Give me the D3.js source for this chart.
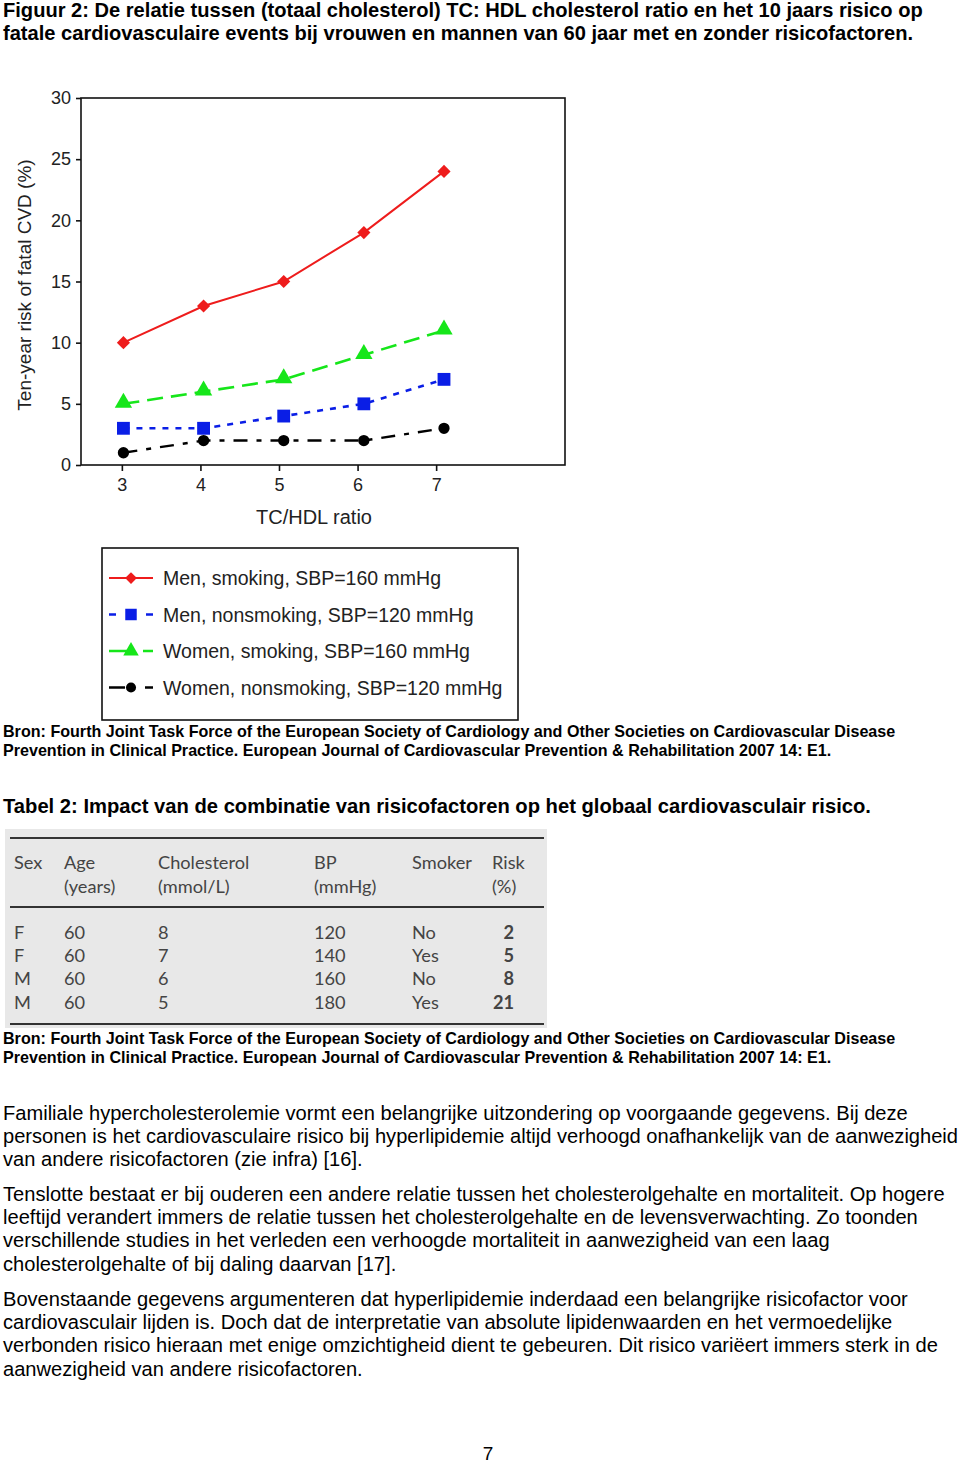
<!DOCTYPE html>
<html><head><meta charset="utf-8">
<script src="https://cdn.jsdelivr.net/npm/d3@7"></script>
<style>
body{margin:0;background:#fff;}
svg{display:block;}
</style></head>
<body>
<svg id="page" width="960" height="1463"></svg>
<script>
// ---------- data ----------
const ratios = [3, 4, 5, 6, 7];
const ratioPos = [3.02, 4.04, 5.06, 6.08, 7.1];
const yTicks = [0, 5, 10, 15, 20, 25, 30];
const menSmoking = [10, 13, 15, 19, 24];
const menNonsmoking = [3, 3, 4, 5, 7];
const womenSmoking = [5, 6, 7, 9, 11];
const womenNonsmoking = [1, 2, 2, 2, 3];
const seriesNames = ["Men, smoking, SBP=160 mmHg", "Men, nonsmoking, SBP=120 mmHg",
  "Women, smoking, SBP=160 mmHg", "Women, nonsmoking, SBP=120 mmHg"];

const titleLines = ["Figuur 2: De relatie tussen (totaal cholesterol) TC: HDL cholesterol ratio en het 10 jaars risico op",
  "fatale cardiovasculaire events bij vrouwen en mannen van 60 jaar met en zonder risicofactoren."];
const sourceLines = ["Bron: Fourth Joint Task Force of the European Society of Cardiology and Other Societies on Cardiovascular Disease",
  "Prevention in Clinical Practice. European Journal of Cardiovascular Prevention & Rehabilitation 2007 14: E1."];
const tableTitle = "Tabel 2: Impact van de combinatie van risicofactoren op het globaal cardiovasculair risico.";
const tableHeader1 = ["Sex", "Age", "Cholesterol", "BP", "Smoker", "Risk"];
const tableHeader2 = ["", "(years)", "(mmol/L)", "(mmHg)", "", "(%)"];
const tableSex = ["F", "F", "M", "M"];
const tableAge = [60, 60, 60, 60];
const tableChol = [8, 7, 6, 5];
const tableBP = [120, 140, 160, 180];
const tableSmoker = ["No", "Yes", "No", "Yes"];
const tableRisk = [2, 5, 8, 21];
const paragraphs = [
  ["Familiale hypercholesterolemie vormt een belangrijke uitzondering op voorgaande gegevens. Bij deze",
   "personen is het cardiovasculaire risico bij hyperlipidemie altijd verhoogd onafhankelijk van de aanwezigheid",
   "van andere risicofactoren (zie infra) [16]."],
  ["Tenslotte bestaat er bij ouderen een andere relatie tussen het cholesterolgehalte en mortaliteit. Op hogere",
   "leeftijd verandert immers de relatie tussen het cholesterolgehalte en de levensverwachting. Zo toonden",
   "verschillende studies in het verleden een verhoogde mortaliteit in aanwezigheid van een laag",
   "cholesterolgehalte of bij daling daarvan [17]."],
  ["Bovenstaande gegevens argumenteren dat hyperlipidemie inderdaad een belangrijke risicofactor voor",
   "cardiovasculair lijden is. Doch dat de interpretatie van absolute lipidenwaarden en het vermoedelijke",
   "verbonden risico hieraan met enige omzichtigheid dient te gebeuren. Dit risico variëert immers sterk in de",
   "aanwezigheid van andere risicofactoren."]];
const pageNumber = "7";

// ---------- drawing ----------
const svg = d3.select("#page");
const docFont = "'Liberation Sans',Arial,Helvetica,sans-serif";
const chartFont = "'Liberation Sans',Arial,Helvetica,sans-serif";

function textLine(x, y, s, size, weight, opts = {}) {
  const t = svg.append("text").attr("x", x).attr("y", y).text(s)
    .attr("font-family", opts.family || docFont).attr("font-size", size)
    .attr("font-weight", weight || "normal").attr("fill", opts.fill || "#000");
  if (opts.anchor) t.attr("text-anchor", opts.anchor);
  return t;
}

titleLines.forEach((s, i) => textLine(3, 17 + i * 23, s, 20.1, "bold"));

// chart
const box = {l: 81, r: 565, t: 98, b: 465};
const x = d3.scaleLinear().domain([2.48, 8.64]).range([box.l, box.r]);
const y = d3.scaleLinear().domain([0, 30]).range([box.b, box.t]);

const g = svg.append("g");
g.append("rect").attr("x", box.l).attr("y", box.t).attr("width", box.r - box.l).attr("height", box.b - box.t)
  .attr("fill", "none").attr("stroke", "#111").attr("stroke-width", 1.6);

const yAxis = g.append("g").attr("transform", `translate(${box.l},0)`)
  .call(d3.axisLeft(y).tickValues(yTicks).tickFormat(d3.format("d")).tickSize(5).tickPadding(5));
const xAxis = g.append("g").attr("transform", `translate(0,${box.b})`)
  .call(d3.axisBottom(x).tickValues(ratios).tickFormat(d3.format("d")).tickSize(6).tickPadding(7));
[yAxis, xAxis].forEach(a => {
  a.select(".domain").remove();
  a.selectAll("line").attr("stroke", "#111").attr("stroke-width", 1.6);
  a.selectAll("text").attr("font-family", chartFont).attr("font-size", 18).attr("fill", "#222");
});

g.append("text").attr("x", 314).attr("y", 524).attr("text-anchor", "middle")
  .attr("font-family", chartFont).attr("font-size", 20).attr("fill", "#222")
  .text("TC/HDL ratio");
g.append("text").attr("transform", "translate(31,285) rotate(-90)").attr("text-anchor", "middle")
  .attr("font-family", chartFont).attr("font-size", 19).attr("fill", "#222")
  .text("Ten-year risk of fatal CVD (%)");

const series = [
  {name: seriesNames[0], vals: menSmoking, color: "#ee1c1c", dash: null, legDash: null, sym: d3.symbolDiamond2, size: 110, w: 2},
  {name: seriesNames[1], vals: menNonsmoking, color: "#0a1ee6", dash: "6,7", legDash: "7,30", sym: d3.symbolSquare, size: 165, w: 2.6},
  {name: seriesNames[2], vals: womenSmoking, color: "#16e61a", dash: "16,8", legDash: "19,15", sym: d3.symbolTriangle, size: 130, w: 2.6},
  {name: seriesNames[3], vals: womenNonsmoking, color: "#000", dash: "14,9,5,9", legDash: "16,20", sym: d3.symbolCircle, size: 100, w: 2.4}
];
const line = d3.line().x((d, i) => x(ratioPos[i])).y(d => y(d));
series.forEach(s => {
  g.append("path").datum(s.vals).attr("d", line).attr("fill", "none")
    .attr("stroke", s.color).attr("stroke-width", s.w).attr("stroke-dasharray", s.dash);
  g.selectAll(null).data(s.vals).enter().append("path")
    .attr("transform", (d, i) => `translate(${x(ratioPos[i])},${y(d) + (s.sym === d3.symbolTriangle ? -1 : 0)})`)
    .attr("d", d3.symbol().type(s.sym).size(s.size)).attr("fill", s.color);
});

// legend
const lg = svg.append("g");
lg.append("rect").attr("x", 102).attr("y", 548).attr("width", 416).attr("height", 172)
  .attr("fill", "#fff").attr("stroke", "#111").attr("stroke-width", 1.6);
series.forEach((s, i) => {
  const yy = 578 + i * 36.5;
  lg.append("line").attr("x1", 109).attr("x2", 153).attr("y1", yy).attr("y2", yy)
    .attr("stroke", s.color).attr("stroke-width", s.w).attr("stroke-dasharray", s.legDash);
  lg.append("path").attr("transform", `translate(131,${yy})`)
    .attr("d", d3.symbol().type(s.sym).size(s.size * 0.8)).attr("fill", s.color);
  lg.append("text").attr("x", 163).attr("y", yy + 7).text(s.name)
    .attr("font-family", chartFont).attr("font-size", 19.5).attr("fill", "#222");
});

// source lines
sourceLines.forEach((s, i) => textLine(3, 737 + i * 19, s, 16.1, "bold"));
textLine(3, 813, tableTitle, 20.2, "bold");

// table
const tg = svg.append("g");
const tFont = "Lato,'Open Sans',sans-serif";
tg.append("rect").attr("x", 5).attr("y", 829).attr("width", 542).attr("height", 199).attr("fill", "#e8e8e8");
[838, 907, 1024].forEach(yy => tg.append("line").attr("x1", 10).attr("x2", 544).attr("y1", yy).attr("y2", yy)
  .attr("stroke", "#333").attr("stroke-width", 1.8));
const colX = [14, 64, 158, 314, 412, 492];
const cell = (xx, yy, s, anchor) => tg.append("text").attr("x", xx).attr("y", yy).text(s)
  .attr("font-family", tFont).attr("font-size", 18.2).attr("fill", "#444").attr("text-anchor", anchor || "start");
tableHeader1.forEach((s, i) => cell(colX[i], 869, s));
tableHeader2.forEach((s, i) => { if (s) cell(colX[i], 893, s); });
const rowY = [939, 962, 985, 1009];
tableSex.forEach((s, r) => {
  cell(colX[0], rowY[r], s);
  cell(colX[1], rowY[r], tableAge[r]);
  cell(colX[2], rowY[r], tableChol[r]);
  cell(colX[3], rowY[r], tableBP[r]);
  cell(colX[4], rowY[r], tableSmoker[r]);
  cell(514, rowY[r], tableRisk[r], "end").attr("font-weight", "bold");
});

sourceLines.forEach((s, i) => textLine(3, 1044 + i * 19, s, 16.1, "bold"));

const paraStart = [1120, 1201, 1306];
paragraphs.forEach((p, pi) => p.forEach((s, li) => textLine(3, paraStart[pi] + li * 23.2, s, 20.1, "normal")));

textLine(488, 1460, pageNumber, 19, "normal", {anchor: "middle"});
</script>
</body></html>
